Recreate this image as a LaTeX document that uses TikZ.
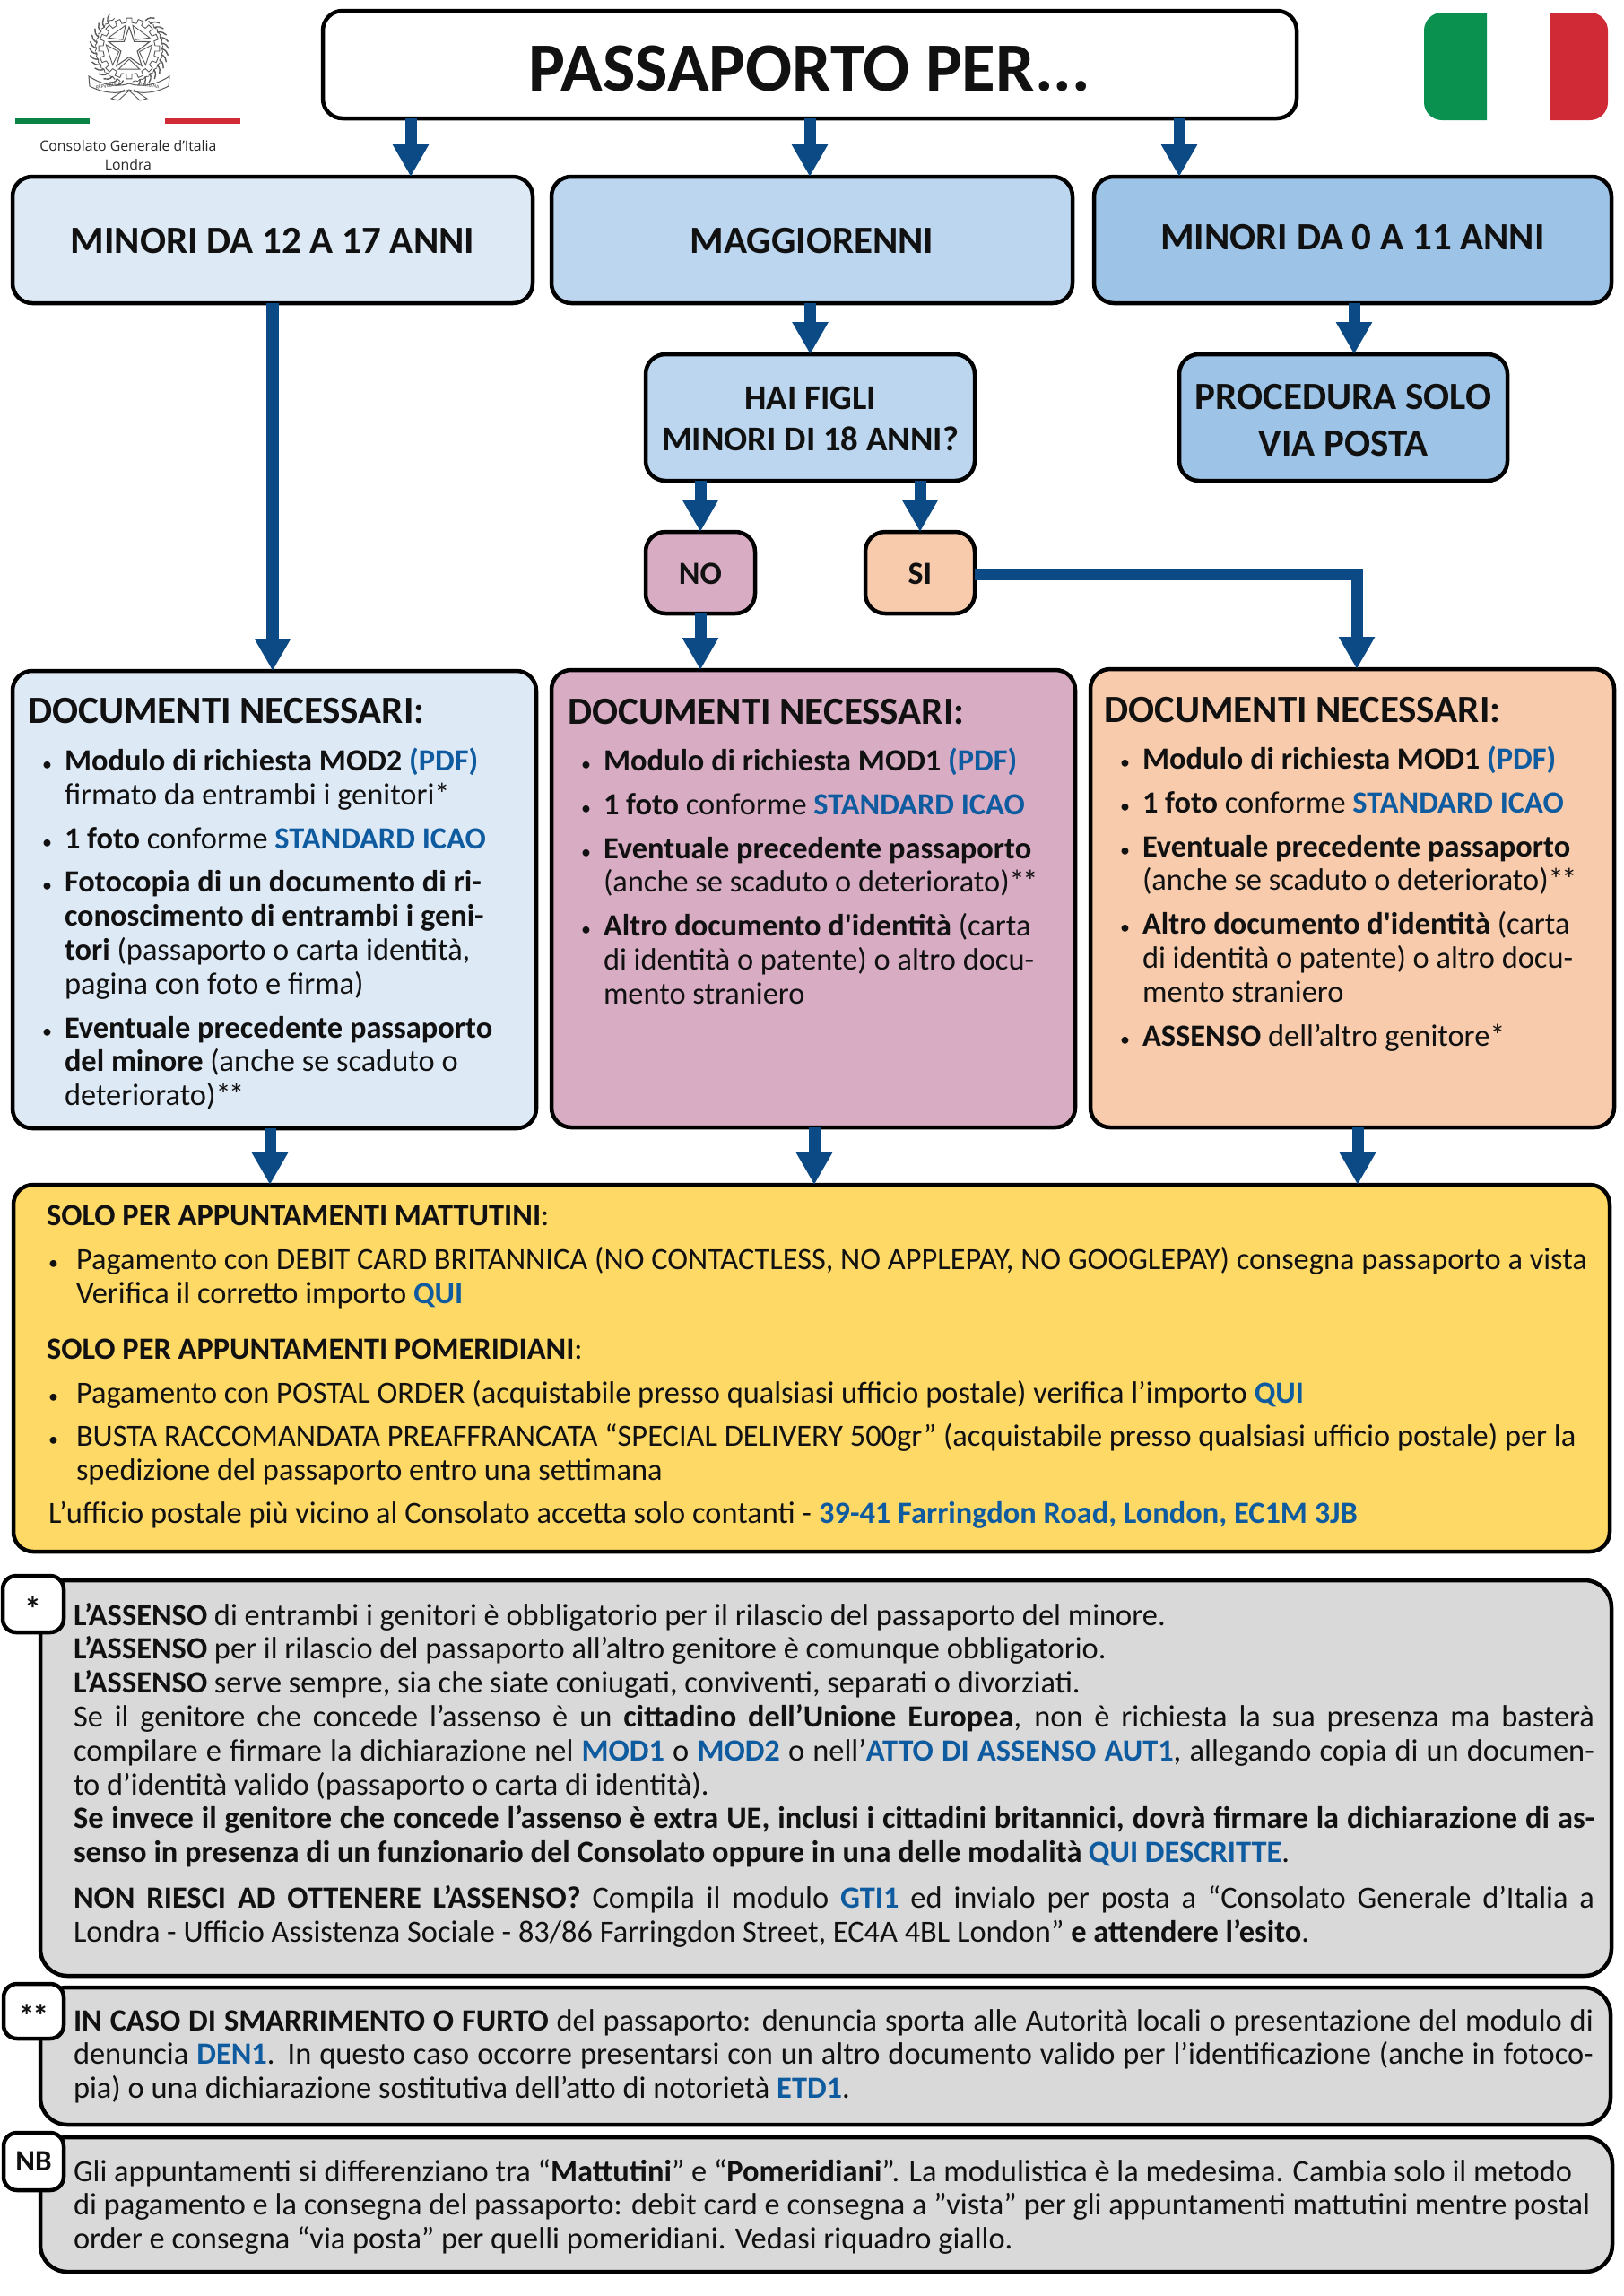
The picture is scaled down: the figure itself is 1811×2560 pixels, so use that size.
\documentclass[tikz,border=0pt]{standalone}
\usepackage{fontspec}
\setmainfont{Carlito}
\newfontfamily\conf{Open Sans}
\newfontfamily\plainf{Carlito}
\usetikzlibrary{arrows.meta}
\definecolor{arrowblue}{HTML}{0C4A85}
\definecolor{lk}{HTML}{0F5BA0}
\definecolor{ca}{HTML}{DEE9F6}
\definecolor{cb}{HTML}{BBD6EE}
\definecolor{cc}{HTML}{9DC3E6}
\definecolor{cpink}{HTML}{D8ADC4}
\definecolor{cpeach}{HTML}{F7CBAC}
\definecolor{cyel}{HTML}{FFD966}
\definecolor{cgrey}{HTML}{D9D9D9}
\definecolor{txt}{HTML}{111111}
\definecolor{flagg}{HTML}{0B914F}
\definecolor{flagr}{HTML}{CF2A36}
\newcommand\B[1]{{\bfseries #1}}
\newcommand\K[1]{{\bfseries\color{lk}#1}}
\newcommand\Q{{\plainf '}}
\newcommand\TS{*\kern-2.5pt*}
\newlength\ind
\newcommand\xl[1]{\hbox{#1}}
\newcommand\xj[1]{\hbox to \hsize{#1}}
\newcommand\xb[1]{\hbox{\makebox[\ind][l]{{\fontsize{22}{22}\selectfont •}}#1}}
\newcommand\xh[1]{\hbox{\hspace*{\ind}#1}}
\newcommand\xg{\vskip 11pt}
\newcommand\tb[5]{\node[anchor=base west,inner sep=0pt,outer sep=0pt,text=txt] (#1) at (#2,#3) {\vtop{\hsize=#4pt \parindent=0pt \fontsize{34.4}{37.8}\selectfont \baselineskip=37.8pt #5}};}
\newcommand\bxn[8][]{\node[boxn,fill=#7,minimum width={#5-#3},minimum height={#6-#4},#1] (#2) at ({(#3+#5)/2},{(#4+#6)/2}) {#8};}
\newcommand\fs[1]{\fontsize{#1}{#1}\selectfont}
\tikzset{
  boxn/.style={draw=black,line width=4.5pt,rounded corners=22pt,inner sep=0pt,outer sep=0pt,align=center,text=txt,font=\bfseries},
  arr/.style={draw=arrowblue,line width=13pt,-{Triangle[width=38pt,length=36pt]}},
  greybox/.style={rounded corners=30pt},
  tagbox/.style={rounded corners=15pt},
}
\begin{document}
\begin{tikzpicture}[x=1pt,y=-1pt]
\useasboundingbox (0,0) rectangle (1811,2560);
% emblem
\begin{scope}[shift={(144,54)},draw=black!65,line width=0.9pt]
  \foreach \a in {0,22.5,...,337.5}{
    \draw ({\a-6}:29) -- ({\a-5}:34) -- ({\a+5}:34) -- ({\a+6}:29) -- ({\a+16.5}:29);
  }
  \draw[line width=1.1pt] (0,-24)--(5.6,-7.7)--(22.8,-7.4)--(9.1,3)--(14.1,19.4)--(0,9.5)--(-14.1,19.4)--(-9.1,3)--(-22.8,-7.4)--(-5.6,-7.7)--cycle;
  \foreach \a in {-54,18,90,162,234}{
    \draw ({\a}:12) -- ({\a-27}:26) -- ({\a+27}:26) -- cycle;
  }
  \foreach \a in {-75,-65,...,55,125,135,...,255}{
    \draw[rotate=\a,line width=1.4pt] (36,-3) .. controls (41,-2) and (43,1) .. (44,4);
    \draw[rotate=\a] (38,0) .. controls (36,2) and (36,4) .. (37,6);
  }
  \draw[fill=white,line width=1pt] (-45,31) .. controls (-25,44) and (-8,42) .. (0,39) .. controls (8,42) and (25,44) .. (45,31) -- (44,42) .. controls (25,52) and (8,50) .. (0,46) .. controls (-8,50) and (-25,52) .. (-44,42) -- cycle;
  \draw (-5,46) -- (-20,56) -- (-12,58) -- (0,47) -- (12,58) -- (20,56) -- (5,46);
  \node[inner sep=0pt,rotate=8,font=\fs{5.6},text=black!75] (emba) at (-23,41.5) {REPVBBLICA};
  \node[inner sep=0pt,rotate=-8,font=\fs{5.6},text=black!75] (embb) at (23,41.5) {ITALIANA};
\end{scope}
% tricolore
\fill[flagg!90!black] (17,132) rectangle (100,138);
\fill[flagr] (184,132) rectangle (268,138);
\node[inner sep=0pt,font=\conf\fs{15.8},text=black!85] (consol) at (143,163) {Consolato Generale d’Italia};
\node[inner sep=0pt,font=\conf\fs{15.8},text=black!85] (londra) at (143,184) {Londra};
% flag
\fill[flagg] (1658,14) [rounded corners=20pt] -- (1588,14) -- (1588,134) [sharp corners] -- (1658,134) -- cycle;
\fill[flagr] (1728,14) [rounded corners=20pt] -- (1793,14) -- (1793,134) [sharp corners] -- (1728,134) -- cycle;
% main boxes
\bxn{title}{360}{12}{1446}{132}{white}{\fs{77}\rule{0pt}{59pt}PASSAPORTO PER...}
\bxn{m1217}{14}{197}{594}{338}{ca}{\fs{43}\rule{0pt}{31pt}MINORI DA 12 A 17 ANNI}
\bxn{magg}{615}{197}{1196}{338}{cb}{\fs{43}\rule{0pt}{31pt}MAGGIORENNI}
\bxn{m011}{1220}{197}{1797}{338}{cc}{\fs{43}\rule[-6pt]{0pt}{6pt}MINORI DA 0 A 11 ANNI}
\bxn[font=\bfseries\fontsize{38.7}{46}\selectfont]{hai}{720}{395}{1087}{536}{cb}{\rule{0pt}{29pt}HAI FIGLI\\MINORI DI 18 ANNI?}
\bxn[font=\bfseries\fontsize{43}{52}\selectfont]{proc}{1315}{395}{1681}{536}{cc}{\rule{0pt}{35pt}PROCEDURA SOLO\\VIA POSTA}
\bxn{no}{720}{593}{842}{684}{cpink}{\fs{36}\rule{0pt}{26pt}NO}
\bxn{si}{965}{593}{1087}{684}{cpeach}{\fs{36}\rule{0pt}{26pt}SI}
\bxn{d1}{14}{748}{598}{1258}{ca}{}
\bxn{d2}{615}{747}{1199}{1257}{cpink}{}
\bxn{d3}{1216}{746}{1800}{1257}{cpeach}{}
\bxn{yel}{15}{1321}{1795}{1730}{cyel}{}
\bxn[greybox]{g1}{45}{1762}{1797}{2203}{cgrey}{}
\bxn[greybox]{g2}{45}{2216}{1796}{2369}{cgrey}{}
\bxn[greybox]{g3}{45}{2383}{1798}{2533}{cgrey}{}
\bxn[tagbox]{ss}{3}{1757}{71}{1820}{white}{\fs{38}\rule{0pt}{38pt}*}
\bxn[tagbox]{dd}{4}{2212}{71}{2273}{white}{\fs{36}\rule{0pt}{36pt}\TS}
\bxn[tagbox]{nb}{4}{2378}{71}{2442}{white}{\fs{33}NB}
% connectors
\coordinate (ta) at (458,0); \coordinate (tb) at (903,0); \coordinate (tc) at (1315,0);
\draw[arr] (title.south -| ta) -- (m1217.north -| ta);
\draw[arr] (title.south -| tb) -- (magg.north -| tb);
\draw[arr] (title.south -| tc) -- (m011.north -| tc);
\coordinate (la) at (304,0);
\draw[arr,line width=14pt] (m1217.south -| la) -- (d1.north -| la);
\draw[arr] (magg.south -| hai) -- (hai.north);
\coordinate (pa) at (1510,0);
\draw[arr] (m011.south -| pa) -- (proc.north -| pa);
\draw[arr] (hai.south -| no) -- (no.north);
\draw[arr] (hai.south -| si) -- (si.north);
\draw[arr] (no.south) -- (d2.north -| no);
\coordinate (sr) at (1513,0);
\coordinate (sa) at (1087,640.5);
\draw[arr,line join=miter] (sa) -- (sa -| sr) -- (d3.north -| sr);
\coordinate (ba) at (301,0); \coordinate (bb) at (908,0); \coordinate (bc) at (1514,0);
\draw[arr] (d1.south -| ba) -- (yel.north -| ba);
\draw[arr] (d2.south -| bb) -- (yel.north -| bb);
\draw[arr] (d3.south -| bc) -- (yel.north -| bc);
% document lists
\node[anchor=base west,inner sep=0pt,text=txt,font=\bfseries\fs{43}] (h1) at (31,806) {DOCUMENTI NECESSARI:};
\node[anchor=base west,inner sep=0pt,text=txt,font=\bfseries\fs{43}] (h2) at (633,807) {DOCUMENTI NECESSARI:};
\node[anchor=base west,inner sep=0pt,text=txt,font=\bfseries\fs{43}] (h3) at (1231,805) {DOCUMENTI NECESSARI:};
\setlength\ind{25pt}
\tb{l1}{47}{859.5}{540}{%
\xb{\B{Modulo di richiesta MOD2} \K{(PDF)}}
\xh{firmato da entrambi i genitori*}\xg
\xb{\B{1 foto} conforme \K{STANDARD ICAO}}\xg
\xb{\B{Fotocopia di un documento di ri-}}
\xh{\B{conoscimento di entrambi i geni-}}
\xh{\B{tori} (passaporto o carta identità,}
\xh{pagina con foto e firma)}\xg
\xb{\B{Eventuale precedente passaporto}}
\xh{\B{del minore} (anche se scaduto o}
\xh{deteriorato)\TS}}
\tb{l2}{648}{859.5}{540}{%
\xb{\B{Modulo di richiesta MOD1} \K{(PDF)}}\xg
\xb{\B{1 foto} conforme \K{STANDARD ICAO}}\xg
\xb{\B{Eventuale precedente passaporto}}
\xh{(anche se scaduto o deteriorato)\TS}\xg
\xb{\B{Altro documento d\Q identità} (carta}
\xh{di identità o patente) o altro docu-}
\xh{mento straniero}}
\tb{l3}{1249}{857.5}{540}{%
\xb{\B{Modulo di richiesta MOD1} \K{(PDF)}}\xg
\xb{\B{1 foto} conforme \K{STANDARD ICAO}}\xg
\xb{\B{Eventuale precedente passaporto}}
\xh{(anche se scaduto o deteriorato)\TS}\xg
\xb{\B{Altro documento d\Q identità} (carta}
\xh{di identità o patente) o altro docu-}
\xh{mento straniero}\xg
\xb{\B{ASSENSO} dell’altro genitore*}}
% yellow panel
\setlength\ind{31pt}
\tb{y1}{52}{1366.5}{1740}{\xl{\B{SOLO PER APPUNTAMENTI MATTUTINI}:}}
\tb{y2}{54}{1415.5}{1740}{%
\xb{Pagamento con DEBIT CARD BRITANNICA (NO CONTACTLESS, NO APPLEPAY, NO GOOGLEPAY) consegna passaporto a vista}
\xh{Verifica il corretto importo \K{QUI}}}
\tb{y3}{52}{1515}{1740}{\xl{\B{SOLO PER APPUNTAMENTI POMERIDIANI}:}}
\tb{y4}{54}{1564}{1740}{%
\xb{Pagamento con POSTAL ORDER (acquistabile presso qualsiasi ufficio postale) verifica l’importo \K{QUI}}\xg
\xb{BUSTA RACCOMANDATA PREAFFRANCATA “SPECIAL DELIVERY 500gr” (acquistabile presso qualsiasi ufficio postale) per la}
\xh{spedizione del passaporto entro una settimana}}
\tb{y5}{54}{1698}{1740}{\xl{L’ufficio postale più vicino al Consolato accetta solo contanti - \K{39-41 Farringdon Road, London, EC1M 3JB}}}
% grey notes
\tb{n1}{82}{1812}{1696}{%
\xl{\B{L’ASSENSO} di entrambi i genitori è obbligatorio per il rilascio del passaporto del minore.}
\xl{\B{L’ASSENSO} per il rilascio del passaporto all’altro genitore è comunque obbligatorio.}
\xl{\B{L’ASSENSO} serve sempre, sia che siate coniugati, conviventi, separati o divorziati.}
\xj{Se il genitore che concede l’assenso è un \B{cittadino dell’Unione Europea}, non è richiesta la sua presenza ma basterà}
\xj{compilare e firmare la dichiarazione nel \K{MOD1} o \K{MOD2} o nell’\K{ATTO DI ASSENSO AUT1}, allegando copia di un documen-}
\xl{to d’identità valido (passaporto o carta di identità).}
\xj{\B{Se invece il genitore che concede l’assenso è extra UE, inclusi i cittadini britannici, dovrà firmare la dichiarazione di as-}}
\xl{\B{senso in presenza di un funzionario del Consolato oppure in una delle modalità} \K{QUI DESCRITTE}.}}
\tb{n2}{82}{2127.5}{1696}{%
\xj{\B{NON RIESCI AD OTTENERE L’ASSENSO?} Compila il modulo \K{GTI1} ed invialo per posta a “Consolato Generale d’Italia a}
\xl{Londra - Ufficio Assistenza Sociale - 83/86 Farringdon Street, EC4A 4BL London” \B{e attendere l’esito}.}}
\tb{n3}{82}{2264}{1695}{%
\xj{\B{IN CASO DI SMARRIMENTO O FURTO} del passaporto: denuncia sporta alle Autorità locali o presentazione del modulo di}
\xj{denuncia \K{DEN1}. In questo caso occorre presentarsi con un altro documento valido per l’identificazione (anche in fotoco-}
\xl{pia) o una dichiarazione sostitutiva dell’atto di notorietà \K{ETD1}.}}
\tb{n4}{82}{2432}{1696}{%
\xl{Gli appuntamenti si differenziano tra “\B{Mattutini}” e “\B{Pomeridiani}”. La modulistica è la medesima. Cambia solo il metodo}
\xl{di pagamento e la consegna del passaporto: debit card e consegna a ”vista” per gli appuntamenti mattutini mentre postal}
\xl{order e consegna “via posta” per quelli pomeridiani. Vedasi riquadro giallo.}}
\end{tikzpicture}
\end{document}
